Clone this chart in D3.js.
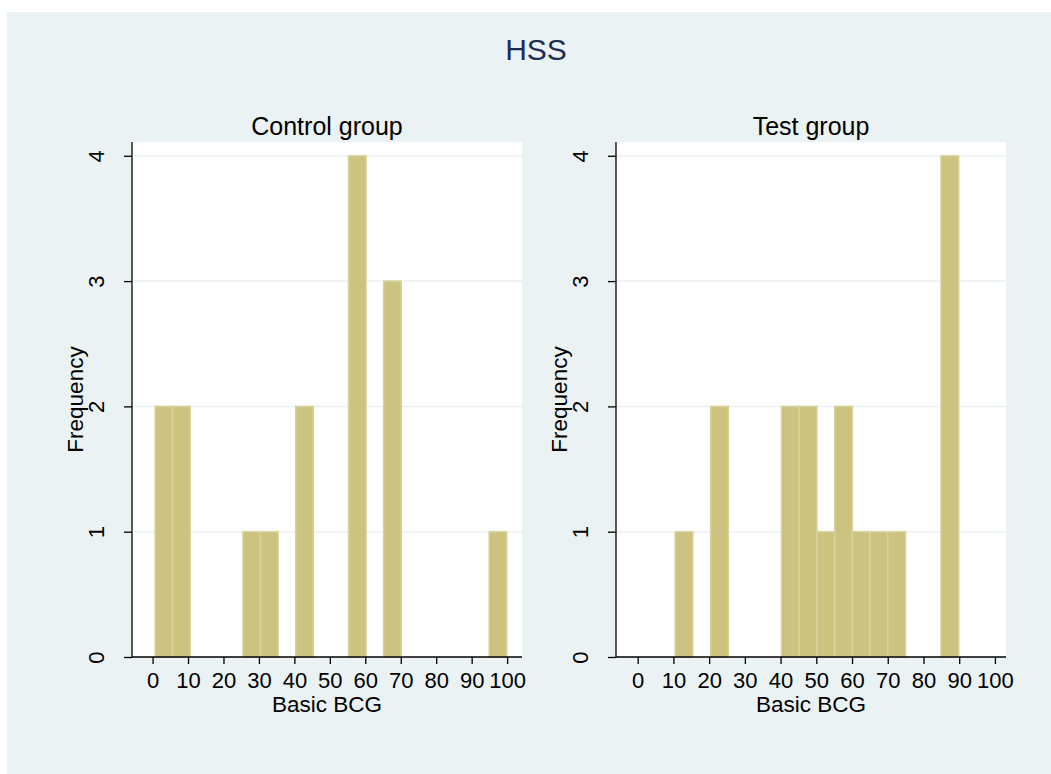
<!DOCTYPE html>
<html>
<head>
<meta charset="utf-8">
<script src="https://cdn.jsdelivr.net/npm/d3@7"></script>
<style>
  html, body { margin: 0; padding: 0; background: #ffffff; }
  svg { display: block; }
  text { font-family: "Liberation Sans", Arial, Helvetica, sans-serif; }
</style>
</head>
<body>
<svg id="chart" width="1051" height="774"></svg>
<script>
// ---- data ----
const chartTitle = "HSS";
const panelTitles = ["Control group", "Test group"];
const xTickValues = [0, 10, 20, 30, 40, 50, 60, 70, 80, 90, 100];
const yTickValues = [0, 1, 2, 3, 4];
const binWidth = 4.96;
// lower bin edges and frequencies (bins with zero count omitted)
const controlBinStarts = [0.7, 5.66, 25.5, 30.46, 40.38, 55.26, 65.18, 94.94];
const controlCounts    = [2, 2, 1, 1, 2, 4, 3, 1];
const testBinStarts = [10.5, 20.42, 40.26, 45.22, 50.18, 55.14, 60.1, 65.06, 70.02, 84.9];
const testCounts    = [1, 2, 2, 2, 1, 2, 1, 1, 1, 4];
const xLabel = "Basic BCG";
const yLabel = "Frequency";

// ---- layout ----
const svg = d3.select("#chart");
svg.append("rect").attr("x", 7).attr("y", 12).attr("width", 1044).attr("height", 762).attr("fill", "#eaf2f3");

svg.append("text").attr("x", 536).attr("y", 60).attr("text-anchor", "middle")
  .attr("font-size", 30).attr("fill", "#1e2d53").text(chartTitle);

const panels = [
  { title: panelTitles[0], starts: controlBinStarts, counts: controlCounts, left: 132, right: 522, xdom: [-5.8, 104.2] },
  { title: panelTitles[1], starts: testBinStarts, counts: testCounts, left: 616, right: 1006, xdom: [-6.07, 103.1] }
];
const plotTop = 142, plotBottom = 657;

panels.forEach(p => {
  const g = svg.append("g");
  const x = d3.scaleLinear().domain(p.xdom).range([p.left, p.right]);
  const y = d3.scaleLinear().domain([0, 4.11]).range([plotBottom, plotTop]);

  g.append("rect").attr("x", p.left).attr("y", plotTop).attr("width", p.right - p.left).attr("height", plotBottom - plotTop).attr("fill", "#ffffff");

  // gridlines
  g.selectAll("line.grid").data(yTickValues.filter(v => v > 0)).enter().append("line")
    .attr("x1", p.left).attr("x2", p.right)
    .attr("y1", d => y(d)).attr("y2", d => y(d))
    .attr("stroke", "#eaf2f3").attr("stroke-width", 1.5);

  // bars
  const bins = p.starts.map((s, i) => ({ lo: s, hi: s + binWidth, n: p.counts[i] }));
  g.selectAll("rect.bar").data(bins).enter().append("rect")
    .attr("x", d => x(d.lo)).attr("width", d => x(d.hi) - x(d.lo))
    .attr("y", d => y(d.n)).attr("height", d => y(0) - y(d.n))
    .attr("fill", "#cbc37f").attr("stroke", "#d8d29c").attr("stroke-width", 1.5);

  // x axis
  const xa = g.append("g").attr("transform", `translate(0,${plotBottom})`)
    .call(d3.axisBottom(x).tickValues(xTickValues).tickSize(7).tickPadding(8).tickFormat(d3.format("d")));
  xa.select(".domain").attr("d", `M${p.left},0H${p.right}`).attr("stroke", "#000").attr("stroke-width", 1.3);
  xa.selectAll(".tick line").attr("stroke", "#000").attr("stroke-width", 1.3);
  xa.selectAll(".tick text").attr("font-size", 22).attr("fill", "#000")
    .attr("font-family", "Liberation Sans, Arial, sans-serif");

  // y axis
  const ya = g.append("g").attr("transform", `translate(${p.left},0)`)
    .call(d3.axisLeft(y).tickValues(yTickValues).tickSize(8).tickFormat(d3.format("d")));
  ya.select(".domain").attr("d", `M0,${plotBottom}V${plotTop}`).attr("stroke", "#000").attr("stroke-width", 1.3);
  ya.selectAll(".tick line").attr("stroke", "#000").attr("stroke-width", 1.3);
  ya.selectAll(".tick text").attr("font-size", 22).attr("fill", "#000")
    .attr("font-family", "Liberation Sans, Arial, sans-serif")
    .attr("x", null).attr("dy", null)
    .attr("text-anchor", "middle")
    .attr("transform", "translate(-28,0) rotate(-90)");

  // panel title
  g.append("text").attr("x", (p.left + p.right) / 2).attr("y", 135).attr("text-anchor", "middle")
    .attr("font-size", 25).attr("fill", "#000").text(p.title);

  // axis titles
  g.append("text").attr("x", (p.left + p.right) / 2).attr("y", 712).attr("text-anchor", "middle")
    .attr("font-size", 22.5).attr("fill", "#000").text(xLabel);
  g.append("text").attr("transform", `translate(${p.left - 49},${(plotTop + plotBottom) / 2}) rotate(-90)`)
    .attr("text-anchor", "middle").attr("font-size", 22.5).attr("fill", "#000").text(yLabel);
});
</script>
</body>
</html>
